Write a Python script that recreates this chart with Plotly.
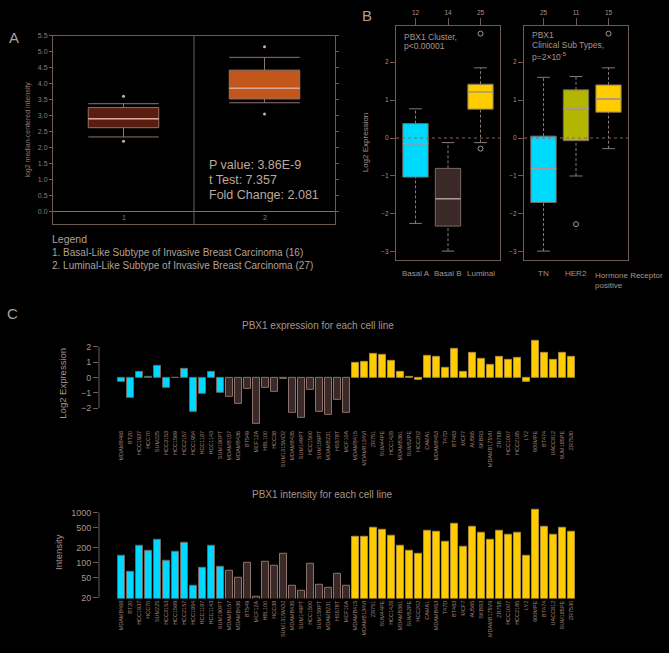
import plotly.graph_objects as go

W, H = 669, 653
def fx(p): return p / W
def fy(p): return 1 - p / H

FONT = "Liberation Sans"
TXT = "#a8948a"
FRAME = "#6e5a52"

# ---------------- Panel A data ----------------
a_pos = [1, 2]
a_ticks = ["1", "2"]
a_q1 = [2.62, 3.52]
a_median = [2.90, 3.85]
a_q3 = [3.25, 4.42]
a_low = [2.33, 3.40]
a_high = [3.37, 4.82]
a_out_x = [1, 1, 2, 2]
a_out_y = [2.20, 3.60, 3.05, 5.15]
a_colors = ["#5a1d0f", "#c2561b"]
a_stats = ["P value: 3.86E-9", "t Test: 7.357", "Fold Change: 2.081"]
a_legend = ["Legend",
            "1. Basal-Like Subtype of Invasive Breast Carcinoma (16)",
            "2. Luminal-Like Subtype of Invasive Breast Carcinoma (27)"]

# ---------------- Panel B data ----------------
b1_pos = [1, 2, 3]
b1_labels = ["Basal A", "Basal B", "Luminal"]
b1_counts = ["12", "14", "25"]
b1_q1 = [-1.03, -2.32, 0.76]
b1_med = [-0.15, -1.60, 1.22]
b1_q3 = [0.38, -0.80, 1.42]
b1_low = [-2.25, -2.98, -0.12]
b1_high = [0.77, -0.12, 1.85]
b1_out_x = [3, 3]
b1_out_y = [2.75, -0.28]
b1_colors = ["#00d9ff", "#3a2927", "#ffcc00"]

b2_pos = [1, 2, 3]
b2_labels = ["TN", "HER2", "Hormone Receptor<br>positive"]
b2_counts = ["25", "11", "15"]
b2_q1 = [-1.70, -0.07, 0.68]
b2_med = [-0.80, 0.77, 1.03]
b2_q3 = [0.05, 1.27, 1.40]
b2_low = [-2.98, -1.00, -0.28]
b2_high = [1.60, 1.62, 1.85]
b2_out_x = [2, 3]
b2_out_y = [-2.27, 2.75]
b2_colors = ["#00d9ff", "#b3b600", "#ffcc00"]

# ---------------- Panel C data ----------------
basal_a = ["MDAMB468", "BT20", "HCC1937", "HCC70", "SUM225", "HCC3153",
           "HCC1569", "HCC2157", "HCC1954", "HCC1187", "HCC1143", "SUM190PT"]
basal_b = ["MDAMB157", "MDAMB436", "BT549", "MCF12A", "HBL100", "HCC38",
           "SUM1315MO2", "MDAMB435", "SUM149PT", "HCC1500", "SUM159PT",
           "MDAMB231", "HS578T", "MCF10A"]
luminal = ["MDAMB415", "MDAMB134VI", "ZR751", "SUM44PE", "HCC1428", "MDAMB361",
           "SUM52PE", "HCC202", "CAMA1", "MDAMB453", "T47D", "BT483", "MCF7",
           "AU565", "SKBR3", "MDAMB175VII", "ZR75B", "HCC1007", "HCC2185", "LY2",
           "600MPE", "BT474", "UACC812", "SUM185PE", "ZR7530"]

expr_basal_a = [-0.28, -1.35, 0.39, 0.06, 0.77, -0.67, -0.02, 0.54, -2.28, -1.05, 0.39, -0.99]
expr_basal_b = [-1.27, -1.70, -0.77, -3.00, -0.69, -0.92, -0.11, -2.32, -2.65, -0.80,
                -2.24, -2.43, -1.46, -2.30]
expr_luminal = [0.97, 1.01, 1.55, 1.44, 1.05, 0.39, 0.02, -0.15, 1.40, 1.35, 0.65, 1.87,
                0.34, 1.61, 1.23, 0.80, 1.35, 1.12, 1.25, -0.28, 2.37, 1.61, 1.14, 1.59, 1.31]

int_basal_a = [136, 66, 215, 174, 287, 108, 166, 247, 35, 80, 215, 84]
int_basal_b = [70, 51, 99, 21, 104, 86, 151, 34, 27, 96, 36, 31, 59, 34]
int_luminal = [324, 334, 489, 447, 340, 215, 171, 154, 433, 420, 258, 605, 208, 512,
               389, 283, 426, 356, 401, 138, 1130, 512, 366, 497, 414]

group_fill = {"A": "#00d9ff", "B": "#3a2927", "L": "#ffcc00"}
group_line = {"A": "#6f6560", "B": "#8c726a", "L": "#a88a40"}

cells = basal_a + basal_b + luminal
groups = ["A"] * len(basal_a) + ["B"] * len(basal_b) + ["L"] * len(luminal)
expr = expr_basal_a + expr_basal_b + expr_luminal
inten = int_basal_a + int_basal_b + int_luminal
cpos = list(range(1, len(cells) + 1))

fig = go.Figure()

# ---------- Panel A ----------
A_W = 0.5
for i, p in enumerate(a_pos):
    fig.add_trace(go.Box(x=[p], q1=[a_q1[i]], median=[a_median[i]], q3=[a_q3[i]],
                         lowerfence=[a_low[i]], upperfence=[a_high[i]],
                         width=A_W, whiskerwidth=1, fillcolor=a_colors[i],
                         line=dict(color="#8f746a", width=1), boxpoints=False,
                         xaxis="x", yaxis="y", showlegend=False, hoverinfo="skip"))
medx, medy = [], []
for i, p in enumerate(a_pos):
    medx += [p - A_W / 2, p + A_W / 2, None]
    medy += [a_median[i], a_median[i], None]
fig.add_trace(go.Scatter(x=medx, y=medy, mode="lines", line=dict(color="#d9a898", width=1.5),
                         xaxis="x", yaxis="y", showlegend=False, hoverinfo="skip"))
fig.add_trace(go.Scatter(x=a_out_x, y=a_out_y, mode="markers",
                         marker=dict(size=3, color="#c8b0a8"),
                         xaxis="x", yaxis="y", showlegend=False, hoverinfo="skip"))

# ---------- Panel B ----------
B_W = 0.78
def panel_b(pos, q1, med, q3, low, high, ox, oy, colors, xa, ya):
    for i, p in enumerate(pos):
        fig.add_trace(go.Box(x=[p], q1=[q1[i]], median=[med[i]], q3=[q3[i]],
                             lowerfence=[q1[i]], upperfence=[q3[i]],
                             width=B_W, whiskerwidth=0, fillcolor=colors[i],
                             line=dict(color="#7a6a62", width=1), boxpoints=False,
                             xaxis=xa, yaxis=ya, showlegend=False, hoverinfo="skip"))
    wx, wy, cx, cy, mx, my = [], [], [], [], [], []
    for i, p in enumerate(pos):
        wx += [p, p, None, p, p, None]
        wy += [q3[i], high[i], None, low[i], q1[i], None]
        cx += [p - B_W / 4, p + B_W / 4, None, p - B_W / 4, p + B_W / 4, None]
        cy += [high[i], high[i], None, low[i], low[i], None]
        mx += [p - B_W / 2, p + B_W / 2, None]
        my += [med[i], med[i], None]
    fig.add_trace(go.Scatter(x=wx, y=wy, mode="lines",
                             line=dict(color="#8a7a72", width=1, dash="3px,2px"),
                             xaxis=xa, yaxis=ya, showlegend=False, hoverinfo="skip"))
    fig.add_trace(go.Scatter(x=cx, y=cy, mode="lines", line=dict(color="#8a7a72", width=1),
                             xaxis=xa, yaxis=ya, showlegend=False, hoverinfo="skip"))
    fig.add_trace(go.Scatter(x=mx, y=my, mode="lines", line=dict(color="#a89a96", width=1.6),
                             xaxis=xa, yaxis=ya, showlegend=False, hoverinfo="skip"))
    fig.add_trace(go.Scatter(x=ox, y=oy, mode="markers",
                             marker=dict(size=5, color="rgba(0,0,0,0)",
                                         line=dict(color="#a8988e", width=1)),
                             xaxis=xa, yaxis=ya, showlegend=False, hoverinfo="skip"))

panel_b(b1_pos, b1_q1, b1_med, b1_q3, b1_low, b1_high, b1_out_x, b1_out_y, b1_colors, "x2", "y2")
panel_b(b2_pos, b2_q1, b2_med, b2_q3, b2_low, b2_high, b2_out_x, b2_out_y, b2_colors, "x3", "y3")
# invisible traces for top count axes
fig.add_trace(go.Scatter(x=b1_pos, y=[0, 0, 0], mode="markers", marker=dict(opacity=0),
                         xaxis="x4", yaxis="y2", showlegend=False, hoverinfo="skip"))
fig.add_trace(go.Scatter(x=b2_pos, y=[0, 0, 0], mode="markers", marker=dict(opacity=0),
                         xaxis="x5", yaxis="y3", showlegend=False, hoverinfo="skip"))

# ---------- Panel C ----------
fig.add_trace(go.Bar(x=cpos, y=expr, width=0.86,
                     marker=dict(color=[group_fill[g] for g in groups],
                                 line=dict(color=[group_line[g] for g in groups], width=1)),
                     xaxis="x6", yaxis="y6", showlegend=False, hoverinfo="skip"))
fig.add_trace(go.Bar(x=cpos, y=inten, width=0.86,
                     marker=dict(color=[group_fill[g] for g in groups],
                                 line=dict(color=[group_line[g] for g in groups], width=1)),
                     xaxis="x7", yaxis="y7", showlegend=False, hoverinfo="skip"))

tickfont = dict(family=FONT, size=9, color=TXT)
small = dict(family=FONT, size=6.5, color=TXT)

layout = dict(
    width=W, height=H, autosize=False,
    margin=dict(l=0, r=0, t=0, b=0),
    paper_bgcolor="black", plot_bgcolor="black",
    font=dict(family=FONT, color=TXT),
    bargap=0,
    # Panel A
    xaxis=dict(domain=[fx(53), fx(335)], range=[0.5, 2.5], anchor="y",
               showline=True, mirror=True, linecolor=FRAME, linewidth=1,
               showgrid=False, zeroline=False, showticklabels=False, ticks=""),
    yaxis=dict(domain=[fy(223), fy(32)], range=[-0.40, 5.5], anchor="x",
               tickvals=[i * 0.5 for i in range(12)], tickformat=".1f",
               showline=True, mirror="ticks", linecolor=FRAME, linewidth=1,
               ticks="outside", ticklen=3, tickcolor=FRAME,
               tickfont=dict(family=FONT, size=7, color="#8e7d75"),
               showgrid=False, zeroline=True, zerolinecolor="#8a6e66", zerolinewidth=1,
               title=dict(text="log2 median-centered intensity",
                          font=dict(family=FONT, size=7, color="#8e7d75"), standoff=6)),
    # Panel B left
    xaxis2=dict(domain=[fx(396), fx(500)], range=[0.4, 3.6], anchor="y2",
                showline=True, mirror=True, linecolor=FRAME, linewidth=1,
                showgrid=False, zeroline=False, showticklabels=False, ticks=""),
    yaxis2=dict(domain=[fy(259), fy(22)], range=[-3.21, 2.96], anchor="x2",
                tickvals=[-3, -2, -1, 0, 1, 2], ticks="outside", ticklen=5,
                tickcolor=FRAME, tickfont=small, showline=True, mirror=True,
                linecolor=FRAME, showgrid=False, zeroline=False),
    xaxis4=dict(range=[0.4, 3.6], overlaying="x2", anchor="y2", side="top",
                tickvals=b1_pos, ticktext=b1_counts, ticks="outside", ticklen=7,
                tickcolor=FRAME, tickfont=small, showgrid=False, zeroline=False,
                showline=False),
    # Panel B right
    xaxis3=dict(domain=[fx(524), fx(628)], range=[0.4, 3.6], anchor="y3",
                showline=True, mirror=True, linecolor=FRAME, linewidth=1,
                showgrid=False, zeroline=False, showticklabels=False, ticks=""),
    yaxis3=dict(domain=[fy(259), fy(22)], range=[-3.21, 2.96], anchor="x3",
                tickvals=[-3, -2, -1, 0, 1, 2], ticks="outside", ticklen=5,
                tickcolor=FRAME, tickfont=small, showline=True, mirror=True,
                linecolor=FRAME, showgrid=False, zeroline=False),
    xaxis5=dict(range=[0.4, 3.6], overlaying="x3", anchor="y3", side="top",
                tickvals=b2_pos, ticktext=b2_counts, ticks="outside", ticklen=7,
                tickcolor=FRAME, tickfont=small, showgrid=False, zeroline=False,
                showline=False),
    # Panel C expression
    xaxis6=dict(domain=[fx(99), fx(594)], range=[-1.5, 53.5], anchor="y6",
                tickvals=cpos, ticktext=cells, tickangle=-90,
                tickfont=dict(family=FONT, size=5.5, color="#a08478"),
                ticks="", showline=False, showgrid=False, zeroline=False),
    yaxis6=dict(domain=[fy(430), fy(338)], range=[-3.35, 2.58], anchor="x6",
                tickvals=[-2, -1, 0, 1, 2], ticks="outside", ticklen=5, tickcolor=FRAME,
                tickfont=tickfont, showline=False, showgrid=False, zeroline=False,
                title=dict(text="Log2 Expression", font=dict(family=FONT, size=9.5, color=TXT),
                           standoff=12)),
    # Panel C intensity
    xaxis7=dict(domain=[fx(99), fx(594)], range=[-1.5, 53.5], anchor="y7",
                tickvals=cpos, ticktext=cells, tickangle=-90,
                tickfont=dict(family=FONT, size=5.5, color="#a08478"),
                ticks="", showline=False, showgrid=False, zeroline=False),
    yaxis7=dict(domain=[fy(602), fy(508)], type="log", range=[1.281, 3.138], anchor="x7",
                tickvals=[20, 50, 100, 200, 500, 1000], ticks="outside", ticklen=5,
                tickcolor=FRAME, tickfont=tickfont, showline=False, showgrid=False,
                zeroline=False,
                title=dict(text="Intensity", font=dict(family=FONT, size=9.5, color=TXT),
                           standoff=6)),
)

shapes = [
    # Panel A divider
    dict(type="line", xref="x", yref="y domain", x0=1.5, x1=1.5, y0=0, y1=1,
         line=dict(color=FRAME, width=1)),
    # Panel B dashed zero lines
    dict(type="line", xref="x2 domain", yref="y2", x0=0, x1=1, y0=0, y1=0,
         line=dict(color="#7a6a62", width=1, dash="3px,3px")),
    dict(type="line", xref="x3 domain", yref="y3", x0=0, x1=1, y0=0, y1=0,
         line=dict(color="#7a6a62", width=1, dash="3px,3px")),
    # Panel C y-axis spines
    dict(type="line", xref="x6 domain", yref="y6", x0=0, x1=0, y0=-2, y1=2,
         line=dict(color=FRAME, width=1)),
    dict(type="line", xref="x7 domain", yref="y7", x0=0, x1=0, y0=20, y1=1000,
         line=dict(color=FRAME, width=1)),
]
layout["shapes"] = shapes

ann = []
def text(x, y, s, size, color=TXT, xanchor="left", yanchor="middle", align="left", **kw):
    ann.append(dict(x=fx(x), y=fy(y), xref="paper", yref="paper", text=s, showarrow=False,
                    xanchor=xanchor, yanchor=yanchor, align=align,
                    font=dict(family=FONT, size=size, color=color), **kw))

# panel letters
text(14, 34, "A", 15, "#b0a098", xanchor="center")
text(367, 12, "B", 15, "#b0a098", xanchor="center")
text(12, 313, "C", 15, "#b0a098", xanchor="center")

# Panel A texts
for i, p in enumerate(a_pos):
    ann.append(dict(x=p, y=-0.2, xref="x", yref="y", text=a_ticks[i], showarrow=False,
                    font=dict(family=FONT, size=7, color="#8e7d75")))
for i, s in enumerate(a_stats):
    text(207, 163 + i * 15, s, 12.5, "#bca89e")
text(50, 238, a_legend[0], 10.5, "#b0a098")
text(50, 252, a_legend[1], 10, "#b0a098")
text(50, 265, a_legend[2], 10, "#b0a098")

# Panel B texts
text(402, 33, "PBX1 Cluster,", 8.5)
text(402, 43, "p<0.00001", 8.5)
text(530, 31, "PBX1", 8.5)
text(530, 42, "Clinical Sub Types,", 8.5)
text(530, 53, "p=2\u00d710<sup>-5</sup>", 8.5)
text(365, 140, "Log2 Expression", 8, xanchor="center", textangle=-90)
for i, p in enumerate(b1_pos):
    ann.append(dict(x=p, y=fy(273), xref="x2", yref="paper", text=b1_labels[i],
                    showarrow=False, xanchor="center", yanchor="middle",
                    font=dict(family=FONT, size=8, color=TXT)))
for i, p in enumerate(b2_pos[:2]):
    ann.append(dict(x=p, y=fy(273), xref="x3", yref="paper", text=b2_labels[i],
                    showarrow=False, xanchor="center", yanchor="middle",
                    font=dict(family=FONT, size=8, color=TXT)))
ann.append(dict(x=fx(593), y=fy(268), xref="paper", yref="paper", text=b2_labels[2],
                showarrow=False, xanchor="left", yanchor="top", align="left",
                font=dict(family=FONT, size=8, color=TXT)))

# Panel C titles
text(318, 325, "PBX1 expression for each cell line", 10, xanchor="center")
text(322, 497, "PBX1 intensity for each cell line", 10, xanchor="center")

layout["annotations"] = ann
fig.update_layout(**layout)
fig.write_html("out.html",
               config={"displayModeBar": False},
               post_script="document.body.style.margin='0';"
                           "document.body.style.background='black';")
